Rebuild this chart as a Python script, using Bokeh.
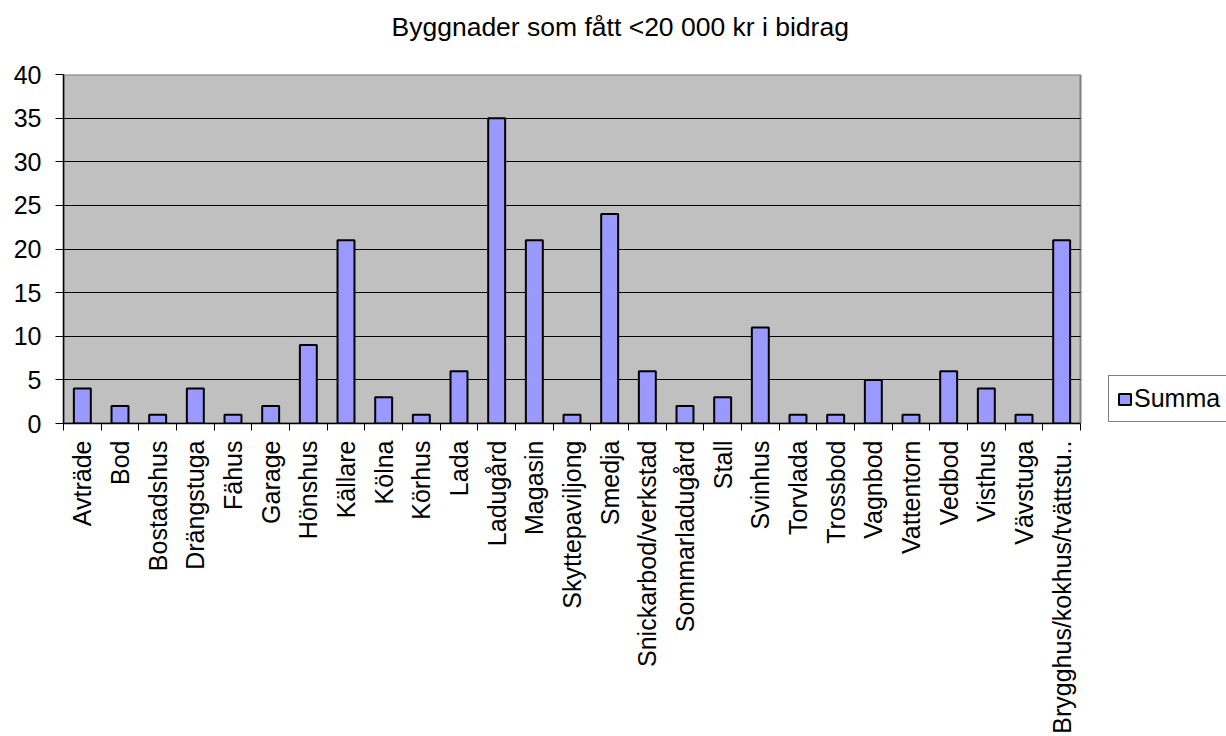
import math
from bokeh.plotting import figure
from bokeh.models import (Range1d, FixedTicker, CustomJSTickFormatter, Legend, LegendItem,
                          ColumnDataSource, Title)
from bokeh.embed import file_html
from bokeh.resources import INLINE

title_text = "Byggnader som fått <20 000 kr i bidrag"
categories = ["Avträde", "Bod", "Bostadshus", "Drängstuga", "Fähus", "Garage", "Hönshus",
              "Källare", "Kölna", "Körhus", "Lada", "Ladugård", "Magasin", "Skyttepaviljong",
              "Smedja", "Snickarbod/verkstad", "Sommarladugård", "Stall", "Svinhus", "Torvlada",
              "Trossbod", "Vagnbod", "Vattentorn", "Vedbod", "Visthus", "Vävstuga",
              "Brygghus/kokhus/tvättstu.."]
values = [4, 2, 1, 4, 1, 2, 9, 21, 3, 1, 6, 35, 21, 1, 24, 6, 2, 3, 11, 1, 1, 5, 1, 6, 4, 1, 21]
series_name = "Summa"
y_ticks = [0, 5, 10, 15, 20, 25, 30, 35, 40]
y_max = 40

n = len(categories)
FONT = "Liberation Sans"

W, H = 1226, 736
PLOT_L, PLOT_R, PLOT_T, PLOT_B = 63, 1080, 74, 423
# frame runs to the right edge so the legend (cut off in the original) can sit there
x_end = n * (W - PLOT_L) / (PLOT_R - PLOT_L)

p = figure(width=W, height=H, x_range=Range1d(0, x_end), y_range=Range1d(0, y_max),
           output_backend="svg", toolbar_location=None,
           min_border_left=PLOT_L, min_border_right=0, min_border_top=PLOT_T,
           min_border_bottom=H - PLOT_B,
           background_fill_color="white", border_fill_color="white")
p.outline_line_color = None

xa = p.below[0]
ya = p.left[0]

p.title.text = title_text
p.title.align = "left"
p.title.offset = 328
p.title.standoff = 0
p.title.text_font = FONT
p.title.text_font_size = "26.5px"
p.title.text_font_style = "normal"
p.title.text_color = "black"

# empty spacer title between the real title and the plot area
p.add_layout(Title(text=" ", text_font=FONT, text_font_size="26.5px", standoff=1), "above")

# plot area (grey) with its grey border
p.quad(left=[0], right=[n], bottom=[0], top=[y_max], fill_color="#C0C0C0",
       line_color="#808080", line_width=2, level="image")

src = ColumnDataSource(dict(x=[i + 0.5 for i in range(n)], top=values, cat=categories))
r = p.vbar(x="x", top="top", width=0.45, source=src, fill_color="#9999FF",
           line_color="black", line_width=2)

# x axis: labels at centres, tick marks at category boundaries
xa.bounds = (0, n)
xa.ticker = FixedTicker(ticks=[i + 0.5 for i in range(n)], minor_ticks=list(range(n + 1)))
xa.formatter = CustomJSTickFormatter(args=dict(names=categories),
                                     code="return names[Math.floor(tick)]")
xa.major_tick_out = 7
xa.major_tick_in = 0
xa.major_tick_line_color = None
xa.minor_tick_out = 7
xa.minor_tick_in = 0
xa.minor_tick_line_color = "black"
xa.minor_tick_line_width = 1
xa.axis_line_color = "black"
xa.axis_line_width = 1.5
xa.major_label_orientation = math.pi / 2
xa.major_label_standoff = 10
xa.major_label_text_font = FONT
xa.major_label_text_font_size = "25px"
xa.major_label_text_color = "black"

ya.ticker = FixedTicker(ticks=y_ticks, minor_ticks=[])
ya.major_tick_out = 8
ya.major_tick_in = 0
ya.major_tick_line_color = "black"
ya.minor_tick_line_color = None
ya.axis_line_color = "black"
ya.axis_line_width = 1.5
ya.major_label_standoff = 14
ya.major_label_text_font = FONT
ya.major_label_text_font_size = "25px"
ya.major_label_text_color = "black"

p.xgrid.grid_line_color = None
p.ygrid.ticker = FixedTicker(ticks=y_ticks[1:-1])
p.ygrid.cross_bounds = (0, n)
p.ygrid.grid_line_color = "black"
p.ygrid.grid_line_width = 1

legend = Legend(items=[LegendItem(label=series_name, renderers=[r])],
                location=(1045, 1), margin=0, padding=8, label_height=25,
                glyph_width=15, glyph_height=14, label_standoff=2,
                label_text_font=FONT, label_text_font_size="25px", label_text_color="black",
                border_line_color="black", border_line_width=1,
                background_fill_color="white", background_fill_alpha=1)
p.add_layout(legend)

open("out.html", "w").write(file_html(p, INLINE))
